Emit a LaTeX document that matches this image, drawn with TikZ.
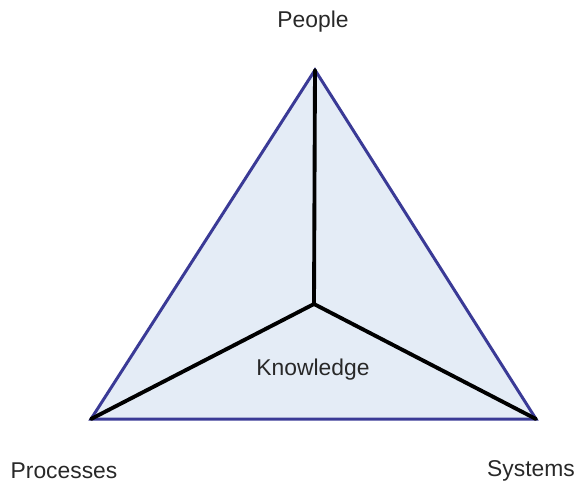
\documentclass[tikz,border=0pt]{standalone}
\usepackage{fontspec}
\setmainfont{Liberation Sans}
\usetikzlibrary{positioning}
\definecolor{edgeblue}{RGB}{58,58,150}
\definecolor{faceblue}{RGB}{228,236,246}
\definecolor{labelgray}{RGB}{40,40,40}

\begin{document}
\begin{tikzpicture}[x=0.02cm, y=-0.02cm,
  lbl/.style={text=labelgray, font=\fontsize{13}{15}\selectfont, inner sep=0pt},
  spoke/.style={line width=2.2pt, black, line cap=round}]
\useasboundingbox (0,0) rectangle (582,485);
% corners
\coordinate (T) at (315,70);
\coordinate (L) at (91,419);
\coordinate (R) at (536,419);
\coordinate (C) at (314,304);
% face
\filldraw[fill=faceblue, draw=edgeblue, line width=1.7pt, line join=miter] (T) -- (R) -- (L) -- cycle;
\draw[spoke] (C) -- (T);
\draw[spoke] (C) -- (L);
\draw[spoke] (C) -- (R);
% labels
\node[lbl] (people) at (313,22) {People};
\node[lbl] (proc) at (64,471) {Processes};
\node[lbl] (sys) at (531,471) {Systems};
\node[lbl] (know) at (313,370) {Knowledge};
\end{tikzpicture}
\end{document}
